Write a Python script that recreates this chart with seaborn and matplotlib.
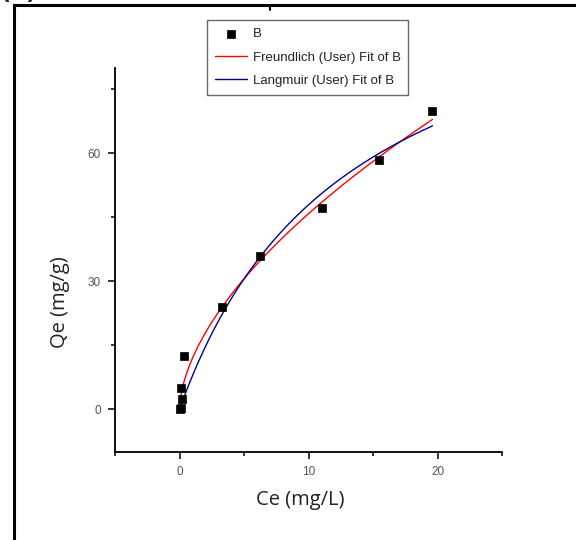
import numpy as np
import pandas as pd
import matplotlib
matplotlib.use("Agg")
import matplotlib.pyplot as plt
from matplotlib import font_manager
from matplotlib.lines import Line2D
import seaborn as sns

# ---- data ----
ce_values = [0.05, 0.10, 0.21, 0.15, 0.33, 3.27, 6.25, 11.04, 15.50, 19.61]
qe_values = [0.0, 0.3, 2.5, 5.1, 12.4, 24.1, 35.9, 47.2, 58.4, 69.9]
# fitted model parameters (as drawn in the reference)
freundlich_k, freundlich_inv_n = 11.95, 0.584
langmuir_qm, langmuir_k = 111.0, 0.076
series_labels = ["B", "Freundlich (User) Fit of B", "Langmuir (User) Fit of B"]
x_ticks = [0, 10, 20]
y_ticks = [0, 30, 60]

sns.set_style("white")

avail = {f.name for f in font_manager.fontManager.ttflist}
narrow = "Liberation Sans Narrow" if "Liberation Sans Narrow" in avail else "Liberation Sans"
label_font = "Open Sans" if "Open Sans" in avail else "DejaVu Sans"
plt.rcParams["font.family"] = [narrow, "DejaVu Sans"]

fig = plt.figure(figsize=(5.76, 5.40), dpi=100)
W, H = 576, 540
ax = fig.add_axes([115 / W, 1 - 452 / H, (502 - 115) / W, (452 - 68) / H])

pts = pd.DataFrame({"Ce": ce_values, "Qe": qe_values})
cmin, cmax = min(ce_values), max(ce_values)
grid = np.linspace(cmin, cmax, 300)
fr = pd.DataFrame({"Ce": grid, "Qe": freundlich_k * grid ** freundlich_inv_n})
la = pd.DataFrame({"Ce": grid, "Qe": langmuir_qm * langmuir_k * grid / (1 + langmuir_k * grid)})

sns.lineplot(data=fr, x="Ce", y="Qe", ax=ax, color="red", lw=1.0, zorder=3, label=series_labels[1])
sns.lineplot(data=la, x="Ce", y="Qe", ax=ax, color="#00008B", lw=1.0, zorder=3, label=series_labels[2])
sns.scatterplot(data=pts, x="Ce", y="Qe", ax=ax, marker="s", s=40, color="black",
                edgecolor="black", linewidth=0.5, zorder=4, label=series_labels[0])

ax.set_xlim(-5, 25)
ax.set_ylim(-10, 80)
ax.set_xticks(x_ticks)
ax.set_yticks(y_ticks)
ax.set_xticks([-5, 5, 15, 25], minor=True)
ax.set_yticks([15, 45, 75], minor=True)
for s in ["top", "right"]:
    ax.spines[s].set_visible(False)
for s in ["left", "bottom"]:
    ax.spines[s].set_color("black")
    ax.spines[s].set_linewidth(1.3)
ax.tick_params(which="major", direction="out", length=5, width=1.1, color="black",
               labelsize=8.5, labelcolor="#555555", pad=5,
               bottom=True, left=True)
ax.tick_params(which="minor", direction="out", length=3, width=1.1, color="black",
               bottom=True, left=True)

ax.set_xlabel("Ce (mg/L)", fontsize=14.5, family=label_font, color="#222222")
ax.set_ylabel("Qe (mg/g)", fontsize=14.5, family=label_font, color="#222222")
ax.xaxis.set_label_coords(0.478, -0.125)
ax.yaxis.set_label_coords(-0.142, 0.39)
ax.xaxis.label.set_va("center")
ax.yaxis.label.set_va("center")

# legend
handles, labels = ax.get_legend_handles_labels()
order = [labels.index(l) for l in series_labels]
handles = [handles[i] for i in order]
labels = [labels[i] for i in order]
leg = ax.legend(handles, labels, loc="upper left",
                bbox_to_anchor=(207 / W, 1 - 20 / H), bbox_transform=fig.transFigure,
                fontsize=9.5, handlelength=2.4, handletextpad=0.45, labelspacing=0.85,
                borderpad=0.6, borderaxespad=0, fancybox=False, frameon=True,
                markerscale=0.9)
leg.get_frame().set_edgecolor("#444444")
leg.get_frame().set_linewidth(1.0)
for t in leg.get_texts():
    t.set_color("#222222")

# outer panel frame and cut-off panel tag
fig.add_artist(Line2D([13.5 / W, 13.5 / W], [0, 1 - 4.5 / H], transform=fig.transFigure,
                      color="black", lw=2.2, solid_capstyle="projecting"))
fig.add_artist(Line2D([13.5 / W, 1], [1 - 4.5 / H, 1 - 4.5 / H], transform=fig.transFigure,
                      color="black", lw=2.2, solid_capstyle="projecting"))
fig.add_artist(Line2D([270 / W, 270 / W], [1 - 4.5 / H, 1 - 10 / H], transform=fig.transFigure,
                      color="black", lw=1.5))
fig.text(0.0 / W, 1.0 + 1 / H, "(b)", fontsize=16, fontweight="bold", family="DejaVu Sans",
         ha="left", va="baseline")

fig.savefig("out.png", dpi=100)
